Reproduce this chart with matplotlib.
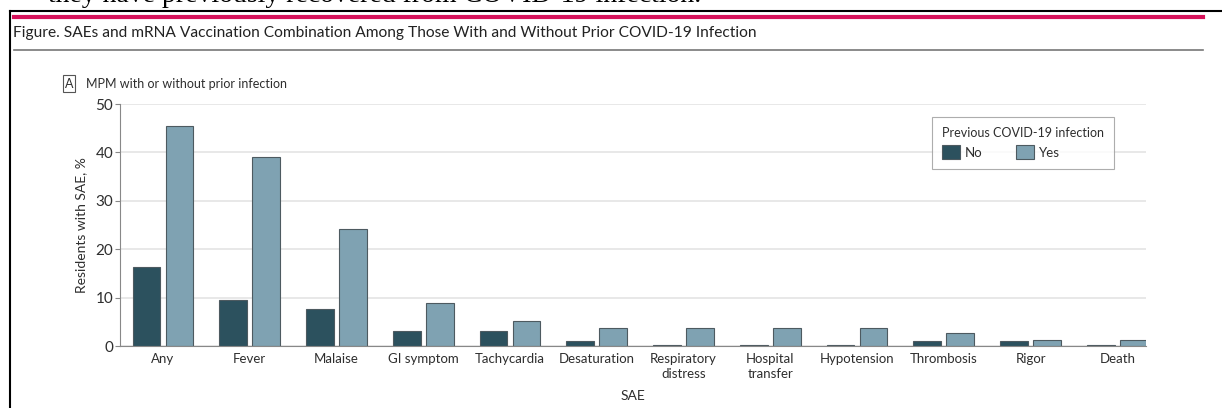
import numpy as np
import matplotlib
matplotlib.use("Agg")
import matplotlib.pyplot as plt
from matplotlib.patches import Rectangle

# data
categories = ["Any", "Fever", "Malaise", "GI symptom", "Tachycardia", "Desaturation",
              "Respiratory\ndistress", "Hospital\ntransfer", "Hypotension",
              "Thrombosis", "Rigor", "Death"]
no_prior = [16.3, 9.6, 7.7, 3.0, 3.0, 1.0, 0.3, 0.3, 0.3, 1.0, 1.0, 0.3]
yes_prior = [45.5, 39.1, 24.1, 8.8, 5.1, 3.8, 3.8, 3.8, 3.8, 2.6, 1.3, 1.3]
y_ticks = [0, 10, 20, 30, 40, 50]

W, H = 1222, 408
c_no = "#2c515e"
c_yes = "#7fa2b2"
c_edge = "#4d5a60"
c_text = "#2e2e2e"
font = ["Lato", "DejaVu Sans"]

fig = plt.figure(figsize=(W / 100, H / 100), dpi=100)

def fx(px):
    return px / W

def fy(py):
    return 1 - py / H

# line of body text above the figure frame, mostly cut by the top edge as in the source
fig.text(fx(48), fy(2.5), "they have previously recovered from COVID-19 infection.",
         family="Liberation Serif", fontsize=20, color="black", va="baseline")

# frame
fig.add_artist(plt.Line2D([fx(10), 1], [fy(11), fy(11)], color="black", lw=1.5))
fig.add_artist(plt.Line2D([fx(10), fx(10)], [fy(11), 0], color="black", lw=1.5))
fig.add_artist(plt.Line2D([fx(14), fx(1203)], [fy(17), fy(17)], color="#d6115a", lw=3))
fig.add_artist(plt.Line2D([fx(14), fx(1203)], [fy(50), fy(50)], color="#777777", lw=1.2))

fig.text(fx(13), fy(33), "Figure. SAEs and mRNA Vaccination Combination Among Those With and Without Prior COVID-19 Infection",
         family=font, fontsize=11.2, color="#222222", va="center")

# panel label
fig.add_artist(Rectangle((fx(63), fy(92)), fx(12), 17 / H, fill=False, ec="#555555", lw=0.8))
fig.text(fx(69), fy(83.5), "A", family=font, fontsize=9, color=c_text, ha="center", va="center")
fig.text(fx(86), fy(83.5), "MPM with or without prior infection", family=font, fontsize=9,
         color=c_text, va="center")

ax = fig.add_axes([fx(120), fy(346), fx(1146) - fx(120), (346 - 104) / H])
x = np.arange(len(categories))
w = 0.32
off = 0.19
ax.bar(x - off, no_prior, w, color=c_no, edgecolor=c_edge, lw=0.8, label="No", zorder=3)
ax.bar(x + off, yes_prior, w, color=c_yes, edgecolor=c_edge, lw=0.8, label="Yes", zorder=3)

ax.set_xlim(-0.496, 11.33)
ax.set_ylim(0, 50)
ax.set_yticks(y_ticks)
ax.set_xticks(x)
ax.set_xticklabels(categories, family=font, fontsize=9.5, color=c_text, linespacing=1.35)
for lab in ax.get_yticklabels():
    lab.set_family(font)
    lab.set_fontsize(11)
    lab.set_color(c_text)
ax.tick_params(axis="x", length=0, pad=5)
ax.tick_params(axis="y", length=3.5, color="#888888", width=0.8, pad=1.5)
ax.grid(axis="y", color="#e4e4e4", lw=1.2, zorder=0)
for s in ["top", "right"]:
    ax.spines[s].set_visible(False)
ax.spines["left"].set_color("#888888")
ax.spines["bottom"].set_color("#888888")
ax.spines["bottom"].set_zorder(4)

ax.set_ylabel("Residents with SAE, %", family=font, fontsize=10, color=c_text, labelpad=6)
ax.set_xlabel("SAE", family=font, fontsize=10, color=c_text, labelpad=7)

leg = ax.legend(title="Previous COVID-19 infection", loc="upper left",
                bbox_to_anchor=((932 - 120) / (1146 - 120), (346 - 117) / (346 - 104)),
                borderaxespad=0, ncol=2, frameon=True, fancybox=False,
                prop={"family": font, "size": 9.5},
                title_fontproperties={"family": font, "size": 9},
                handlelength=1.36, handleheight=1.2, handletextpad=0.35,
                columnspacing=2.6, borderpad=0.75, alignment="left")
leg.get_frame().set_edgecolor("#999999")
leg.get_frame().set_linewidth(0.8)
leg.get_title().set_color(c_text)
for t in leg.get_texts():
    t.set_color(c_text)

fig.savefig("out.png", dpi=100)
